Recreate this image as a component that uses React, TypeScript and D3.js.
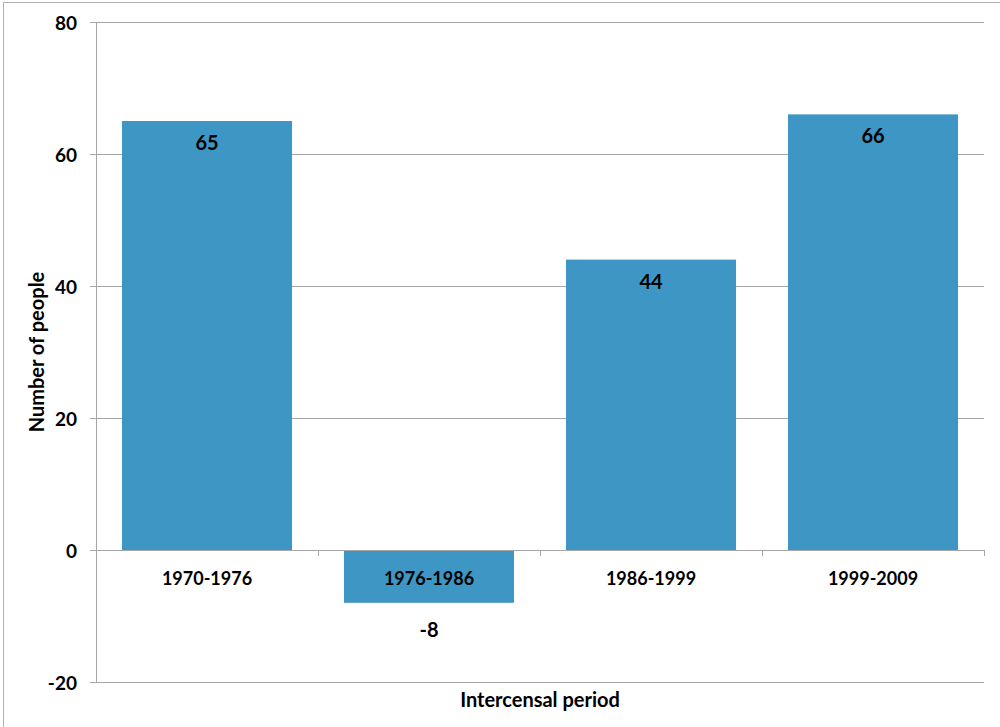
import React from "react";
import * as d3 from "d3";

const periods = ["1970-1976", "1976-1986", "1986-1999", "1999-2009"];
const values = [65, -8, 44, 66];
const yTicks = [-20, 0, 20, 40, 60, 80];

const W = 1000;
const H = 727;
const left = 96;
const right = 984;
const top = 22;
const bottom = 682;

export default function App() {
  const x = d3.scaleBand<string>().domain(periods).range([left, right]).paddingInner(0.234).paddingOuter(0.117);
  const y = d3.scaleLinear().domain([-20, 80]).range([bottom, top]);
  const step = x.step();
  const font = "Lato, 'Open Sans', sans-serif";
  const grid = "#a6a6a6";

  return (
    <svg width={W} height={H} style={{ position: "absolute", left: 0, top: 0, background: "#fff" }}>
      <rect x={3.5} y={2.5} width={W + 10} height={H + 10} fill="none" stroke="#b0b0b0" strokeWidth={1} />
      {/* horizontal gridlines and y ticks */}
      {yTicks.map((t) => (
        <g key={t}>
          <line x1={left - 6} x2={right} y1={Math.round(y(t)) + 0.5} y2={Math.round(y(t)) + 0.5} stroke={grid} strokeWidth={1} />
          <text x={77} y={y(t)} textAnchor="end" dominantBaseline="central" fontFamily={font} fontWeight={700} fontSize={19} fill="#000">
            {String(t)}
          </text>
        </g>
      ))}
      {/* bars */}
      {values.map((v, i) => {
        const x0 = x(periods[i])!;
        const y0 = y(Math.max(0, v));
        const h = Math.abs(y(v) - y(0));
        return <rect key={periods[i]} x={x0} y={y0} width={x.bandwidth()} height={h} fill="#3d96c3" />;
      })}
      {/* y axis line */}
      <line x1={left + 0.5} x2={left + 0.5} y1={top} y2={bottom} stroke={grid} strokeWidth={1} />
      {/* x axis at zero with category ticks */}
      <line x1={left} x2={right} y1={Math.round(y(0)) + 0.5} y2={Math.round(y(0)) + 0.5} stroke={grid} strokeWidth={1} />
      {d3.range(periods.length + 1).map((k) => (
        <line key={k} x1={Math.round(left + k * step) + 0.5} x2={Math.round(left + k * step) + 0.5} y1={y(0)} y2={y(0) + 6} stroke={grid} strokeWidth={1} />
      ))}
      {/* category labels */}
      {periods.map((p) => (
        <text key={p} x={x(p)! + x.bandwidth() / 2} y={578} textAnchor="middle" dominantBaseline="central" fontFamily={font} fontWeight={700} fontSize={18} fill="#000">
          {p}
        </text>
      ))}
      {/* value labels */}
      {values.map((v, i) => {
        const cx = x(periods[i])! + x.bandwidth() / 2;
        const ly = v >= 0 ? y(v) + 21 : y(v) + 26;
        return (
          <text key={"v" + i} x={cx} y={ly} textAnchor="middle" dominantBaseline="central" fontFamily={font} fontWeight={700} fontSize={20} fill="#000">
            {String(v)}
          </text>
        );
      })}
      {/* axis titles */}
      <text transform={`translate(36,${(top + bottom) / 2}) rotate(-90)`} textAnchor="middle" dominantBaseline="central" fontFamily={font} fontWeight={700} fontSize={20} fill="#000">
        Number of people
      </text>
      <text x={540} y={699} textAnchor="middle" dominantBaseline="central" fontFamily={font} fontWeight={700} fontSize={20} fill="#000">
        Intercensal period
      </text>
    </svg>
  );
}
